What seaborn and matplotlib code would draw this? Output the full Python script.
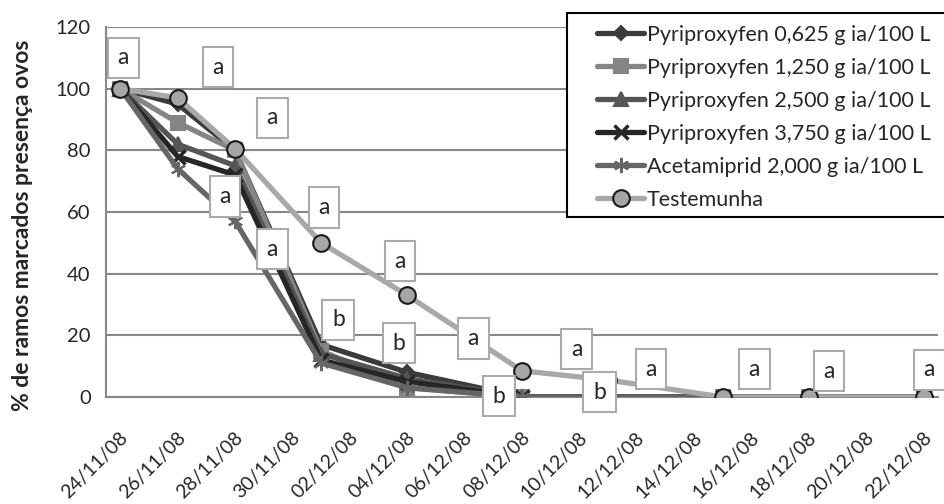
import matplotlib
matplotlib.use("Agg")
import matplotlib.pyplot as plt
import matplotlib.patches as mpatches
import matplotlib.transforms as mtransforms
import seaborn as sns
import pandas as pd
import numpy as np

# ---------------- data ----------------
obs_dates = ['24/11/08', '26/11/08', '28/11/08', '01/12/08', '04/12/08',
             '08/12/08', '11/12/08', '15/12/08', '18/12/08', '22/12/08']
tick_dates = ['24/11/08', '26/11/08', '28/11/08', '30/11/08', '02/12/08',
              '04/12/08', '06/12/08', '08/12/08', '10/12/08', '12/12/08',
              '14/12/08', '16/12/08', '18/12/08', '20/12/08', '22/12/08']

series_names = ['Pyriproxyfen 0,625 g ia/100 L', 'Pyriproxyfen 1,250 g ia/100 L',
                'Pyriproxyfen 2,500 g ia/100 L', 'Pyriproxyfen 3,750 g ia/100 L',
                'Acetamiprid 2,000 g ia/100 L', 'Testemunha']
p0625 = [100, 95, 80, 17, 8, 0, 0, 0, 0, 0]
p1250 = [100, 89, 80, 15, 3, 0, 0, 0, 0, 0]
p2500 = [100, 82, 75, 14, 6, 0, 0, 0, 0, 0]
p3750 = [100, 78, 72, 12, 5, 0, 0, 0, 0, 0]
acet = [100, 74, 57, 11, 3, 0, 0, 0, 0, 0]
testemunha = [100, 97, 80.5, 50, 33, 8.5, 5.5, 0, 0, 0]
values = [p0625, p1250, p2500, p3750, acet, testemunha]

# letters of significance (text, date offset in days, y)
letters = ['a', 'a', 'a', 'a', 'a', 'a', 'b', 'a', 'b', 'a', 'b', 'a', 'b',
           'a', 'a', 'a', 'a']
letter_x = [0.1, 3.4, 5.3, 3.65, 5.3, 7.1, 7.6, 9.75, 9.7, 12.3, 13.2, 15.9,
            16.7, 18.5, 22.1, 24.7, 28.2]
letter_y = [110, 107, 90.5, 65, 48, 61.5, 25, 44, 17.5, 19, 0.3, 15.5, 1.6,
            9, 9, 8.4, 8.8]

# ---------------- styles ----------------
colors = ['#3b3b3b', '#858585', '#555555', '#262626', '#666666', '#a8a8a8']
markers = ['D', 's', '^', 'x', (6, 2, 0), 'o']
msizes = [7, 10, 10, 10, 11, 12]
medge = ['#3b3b3b', '#858585', '#555555', '#262626', '#666666', '#1a1a1a']
mface = ['#3b3b3b', '#858585', '#555555', '#262626', '#666666', '#a6a6a6']

sns.set_theme(style='white')
plt.rcParams['font.family'] = ['Lato', 'DejaVu Sans']

start = pd.to_datetime(obs_dates[0], format='%d/%m/%y')
days = [(pd.to_datetime(d, format='%d/%m/%y') - start).days for d in obs_dates]
tick_days = [(pd.to_datetime(d, format='%d/%m/%y') - start).days for d in tick_dates]

W, H = 944, 504
fig = plt.figure(figsize=(W / 100, H / 100), dpi=100)
ax = fig.add_axes([106 / W, (H - 397) / H, (938 - 106) / W, (397 - 27) / H])

for name, vals, c, m, ms, me, mf in zip(series_names, values, colors, markers,
                                       msizes, medge, mface):
    df = pd.DataFrame({'day': days, 'val': vals})
    sns.lineplot(data=df, x='day', y='val', ax=ax, color=c, linewidth=3.8,
                 marker=m, markersize=ms, markeredgecolor=me,
                 markerfacecolor=mf, markeredgewidth=1.5 if m != 'x' else 2.5,
                 label=name, zorder=3)

ax.set_xlim(-0.5, 28.5)
ax.set_ylim(0, 120)
ax.set_yticks(range(0, 121, 20))
ax.yaxis.grid(True, color='#888888', linewidth=1.5, zorder=0)
ax.set_axisbelow(True)
for s in ['top', 'right']:
    ax.spines[s].set_visible(False)
for s in ['left', 'bottom']:
    ax.spines[s].set_color('#888888')
    ax.spines[s].set_linewidth(1.5)

ax.set_xticks(tick_days)
ax.set_xticklabels(tick_dates, rotation=45, ha='right', va='center',
                   rotation_mode='anchor', fontsize=14)
ax.tick_params(axis='x', which='major', length=0, pad=27)
offset = mtransforms.ScaledTranslation(5 / 100, 0, fig.dpi_scale_trans)
for lab in ax.get_xticklabels():
    lab.set_transform(lab.get_transform() + offset)
ax.set_xticks([d - 0.5 for d in tick_days], minor=True)
ax.tick_params(axis='x', which='minor', length=6, width=1.5, color='#888888',
               direction='out')
ax.tick_params(axis='y', length=7, width=1.5, color='#888888', direction='out',
               labelsize=14.5, pad=4)
ax.set_xlabel('')
ax.set_ylabel('% de ramos marcados presença ovos', fontsize=16.5,
              fontweight='bold')
ax.yaxis.set_label_coords(-0.088, 0.465)

for t, x, y in zip(letters, letter_x, letter_y):
    ax.text(x, y, t, fontsize=16.5, ha='center', va='center', zorder=5,
            bbox=dict(boxstyle='square,pad=0.42', facecolor='white',
                      edgecolor='#aaaaaa', linewidth=1.5))

# legend frame drawn as a rectangle (Excel-style asymmetric padding)
frame = mpatches.Rectangle((567 / W, 1 - 217 / H), (W + 5 - 567) / W, (217 - 13) / H,
                           transform=fig.transFigure, facecolor='white',
                           edgecolor='black', linewidth=1.5, zorder=9,
                           clip_on=False)
ax.add_patch(frame)

leg = ax.legend(loc='upper left', bbox_to_anchor=(597 / W, 1 - 25 / H),
                bbox_transform=fig.transFigure, fontsize=15.5, frameon=False,
                handlelength=2.2, labelspacing=0.6, borderpad=0,
                handletextpad=0.1, borderaxespad=0)
leg.set_zorder(10)

fig.savefig('out.png', dpi=100)
